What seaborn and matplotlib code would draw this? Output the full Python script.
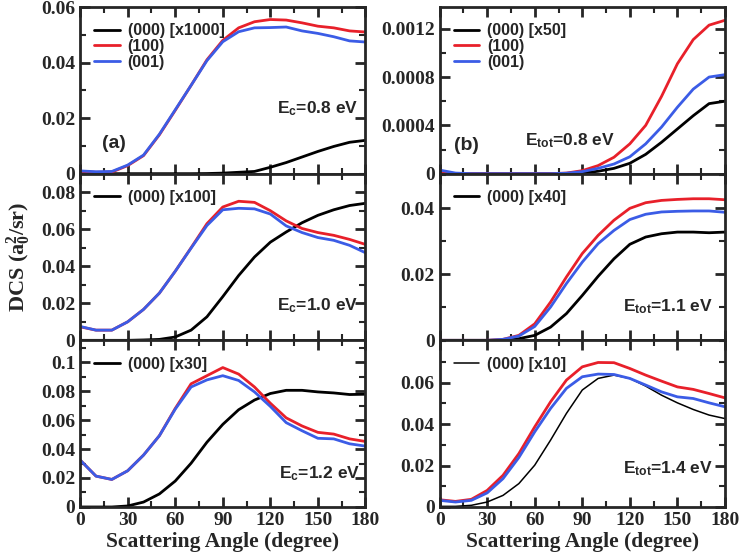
import matplotlib
matplotlib.use("Agg")
import matplotlib.pyplot as plt
import seaborn as sns
from matplotlib.ticker import MultipleLocator, FuncFormatter

# ==========================================
# Data
# ==========================================

angles = [0, 10, 20, 30, 40, 50, 60, 70, 80, 90,
          100, 110, 120, 130, 140, 150, 160, 170, 180]

# (a) Ec = 0.8 eV
a_000 = [0, 0, 0, 0, 0, 0, 0, 0, 0.00005, 0.0002, 0.0005, 0.0008, 0.0023,
         0.0040, 0.0060, 0.0080, 0.0098, 0.0113, 0.0120]
a_100 = [0.0008, 0.0005, 0.0006, 0.0029, 0.0065, 0.0140, 0.0228, 0.0318, 0.0410,
         0.0480, 0.0525, 0.0547, 0.0555, 0.0553, 0.0543, 0.0531, 0.0525, 0.0514, 0.0510]
a_001 = [0.0010, 0.0007, 0.0008, 0.0031, 0.0067, 0.0142, 0.0230, 0.0318, 0.0407,
         0.0475, 0.0511, 0.0525, 0.0526, 0.0528, 0.0514, 0.0505, 0.0493, 0.0478, 0.0474]

# (b) Etot = 0.8 eV
b_000 = [0, 0, 0, 0, 0, 0, 0, 0, 0, 0.000005, 0.00002, 0.000044, 0.000086,
         0.00016, 0.00026, 0.00037, 0.00048, 0.00058, 0.0006]
b_100 = [0.00001, 0, 0, 0, 0, 0, 0, 0, 0.000005, 0.000025, 0.000067, 0.000136,
         0.000247, 0.00040, 0.00064, 0.00091, 0.00111, 0.00123, 0.00127]
b_001 = [0.00003, 0.000005, 0, 0, 0, 0, 0, 0, 0.000004, 0.000017, 0.000044, 0.00008,
         0.00014, 0.000247, 0.000386, 0.00055, 0.0007, 0.0008, 0.00082]

# Ec = 1.0 eV
c_000 = [0, 0, 0, 0, 0.0002, 0.0005, 0.0018, 0.0055, 0.0127, 0.0236, 0.0350,
         0.0450, 0.0530, 0.0585, 0.0635, 0.0675, 0.0705, 0.0728, 0.0740]
c_100 = [0.0073, 0.0055, 0.0055, 0.0100, 0.0167, 0.0255, 0.0373, 0.0500, 0.0630,
         0.0720, 0.0751, 0.0745, 0.0700, 0.0645, 0.0604, 0.0582, 0.0567, 0.0545, 0.0518]
c_001 = [0.0075, 0.0055, 0.0055, 0.0100, 0.0167, 0.0255, 0.0373, 0.0498, 0.0620,
         0.0705, 0.0713, 0.0710, 0.0682, 0.0618, 0.0582, 0.0555, 0.0540, 0.0513, 0.0473]

# Etot = 1.1 eV
d_000 = [0, 0, 0, 0, 0, 0.0005, 0.0015, 0.0040, 0.0081, 0.0136, 0.0194, 0.0247,
         0.0291, 0.0313, 0.0323, 0.0328, 0.0328, 0.0326, 0.0328]
d_100 = [0, 0, 0, 0, 0.0003, 0.0015, 0.0050, 0.0116, 0.0192, 0.0263, 0.0318,
         0.0364, 0.0400, 0.0417, 0.0424, 0.0427, 0.0429, 0.0429, 0.0426]
d_001 = [0, 0, 0, 0, 0.0003, 0.0013, 0.0042, 0.0101, 0.0172, 0.0237, 0.0293,
         0.0333, 0.0366, 0.0382, 0.0389, 0.0391, 0.0392, 0.0392, 0.0388]

# Ec = 1.2 eV
e_000 = [0, 0, 0, 0.0007, 0.0034, 0.0090, 0.0179, 0.0302, 0.0447, 0.0570, 0.0671,
         0.0738, 0.0783, 0.0805, 0.0805, 0.0794, 0.0787, 0.0776, 0.0778]
e_100 = [0.0324, 0.0213, 0.0190, 0.0250, 0.0358, 0.0492, 0.0680, 0.0850, 0.0906,
         0.0962, 0.0917, 0.0828, 0.0716, 0.0615, 0.0559, 0.0515, 0.0503, 0.0470, 0.0452]
e_001 = [0.0324, 0.0213, 0.0190, 0.0250, 0.0358, 0.0492, 0.0675, 0.0828, 0.0877,
         0.0906, 0.0873, 0.0794, 0.0694, 0.0582, 0.0526, 0.0474, 0.0470, 0.0436, 0.0420]

# Etot = 1.4 eV
f_000 = [0.0003, 0.0003, 0.0008, 0.0024, 0.0056, 0.0113, 0.0202, 0.0323, 0.0452,
         0.0565, 0.0621, 0.0637, 0.0621, 0.0584, 0.0540, 0.0503, 0.0471, 0.0444, 0.0427]
f_100 = [0.0035, 0.0027, 0.0037, 0.0080, 0.0153, 0.0258, 0.0387, 0.0508, 0.0613,
         0.0677, 0.0698, 0.0697, 0.0669, 0.0637, 0.0608, 0.0580, 0.0568, 0.0548, 0.0527]
f_001 = [0.0032, 0.0024, 0.0032, 0.0068, 0.0137, 0.0239, 0.0363, 0.0476, 0.0573,
         0.0629, 0.0642, 0.0640, 0.0621, 0.0589, 0.0556, 0.0532, 0.0524, 0.0503, 0.0484]

scale_labels = ["(000) [x1000]", "(000) [x50]", "(000) [x100]",
                "(000) [x40]", "(000) [x30]", "(000) [x10]"]
energy_labels = [r"E$_{\mathsf{c}}$=0.8 eV", r"E$_{\mathsf{tot}}$=0.8 eV",
                 r"E$_{\mathsf{c}}$=1.0 eV", r"E$_{\mathsf{tot}}$=1.1 eV",
                 r"E$_{\mathsf{c}}$=1.2 eV", r"E$_{\mathsf{tot}}$=1.4 eV"]

# ==========================================
# Style
# ==========================================

sns.set_style("ticks")
plt.rcParams["font.family"] = ["Liberation Serif", "DejaVu Serif"]
plt.rcParams["font.weight"] = "bold"
plt.rcParams["mathtext.fontset"] = "custom"
plt.rcParams["mathtext.rm"] = "Liberation Serif:bold"
plt.rcParams["mathtext.it"] = "Liberation Serif:bold"
plt.rcParams["mathtext.sf"] = "Liberation Sans:bold"

RED = "#e8202a"
BLUE = "#3b5ce6"
legend_font = {"family": "Liberation Sans", "weight": "bold", "size": 11.5}

fig, axes = plt.subplots(3, 2, figsize=(7.42, 5.57), dpi=100)
fig.subplots_adjust(left=0.108, right=0.977, top=0.9874, bottom=0.0898,
                    hspace=0, wspace=0.26)

panels = [
    (a_000, a_100, a_001, 0.060, 0.02, 0.01, 2.0),
    (b_000, b_100, b_001, 0.00138, 0.0004, 0.0002, 2.0),
    (c_000, c_100, c_001, 0.090, 0.02, 0.01, 2.0),
    (d_000, d_100, d_001, 0.0505, 0.02, 0.01, 2.0),
    (e_000, e_100, e_001, 0.115, 0.02, 0.01, 2.0),
    (f_000, f_100, f_001, 0.0805, 0.02, 0.01, 1.1),
]

text_pos = [(0.975, 0.39, "right"), (0.30, 0.20, "left"),
            (0.975, 0.21, "right"), (0.958, 0.20, "right"),
            (0.98, 0.20, "right"), (0.958, 0.23, "right")]

for i, ax in enumerate(axes.flat):
    s000, s100, s001, ytop, major, minor, blw = panels[i]

    sns.lineplot(x=angles, y=s000, color="black", linewidth=blw, ax=ax,
                 label=scale_labels[i])
    if i < 2:
        sns.lineplot(x=angles, y=s100, color=RED, linewidth=2.0, ax=ax, label="(100)")
        sns.lineplot(x=angles, y=s001, color=BLUE, linewidth=2.0, ax=ax, label="(001)")
    else:
        sns.lineplot(x=angles, y=s100, color=RED, linewidth=2.0, ax=ax)
        sns.lineplot(x=angles, y=s001, color=BLUE, linewidth=2.0, ax=ax)

    ax.set_xlim(0, 180)
    ax.set_ylim(0, ytop)
    ax.xaxis.set_major_locator(MultipleLocator(30))
    ax.xaxis.set_minor_locator(MultipleLocator(15))
    ax.yaxis.set_major_locator(MultipleLocator(major))
    ax.yaxis.set_minor_locator(MultipleLocator(minor))
    ax.yaxis.set_major_formatter(FuncFormatter(lambda v, p: "0" if abs(v) < 1e-12 else f"{v:g}"))
    if i == 5:
        ax.set_yticks([0, 0.02, 0.04, 0.06])

    ax.tick_params(which="both", direction="in", top=True, right=True,
                   labelsize=14)
    ax.tick_params(which="major", length=7, width=2)
    ax.tick_params(which="minor", length=4, width=1.5)
    for lab in ax.get_yticklabels() + ax.get_xticklabels():
        lab.set_fontweight("bold")
    for sp in ax.spines.values():
        sp.set_linewidth(2)

    if i < 4:
        ax.tick_params(labelbottom=False)
    else:
        ax.set_xlabel("Scattering Angle (degree)", fontsize=15.5,
                      fontweight="bold", labelpad=2)

    ax.legend(loc="upper left", frameon=False, prop=legend_font, handlelength=1.6,
              handletextpad=0.5, labelspacing=0.05, borderaxespad=0.3,
              bbox_to_anchor=(0.01, 0.97))

    tx, ty, ha = text_pos[i]
    ax.text(tx, ty, energy_labels[i], transform=ax.transAxes, ha=ha,
            va="center", family="Liberation Sans", weight="bold", fontsize=12.5)

axes[0, 0].text(0.12, 0.18, "(a)", transform=axes[0, 0].transAxes,
                ha="center", va="center", family="Liberation Sans",
                weight="bold", fontsize=14)
axes[0, 1].text(0.05, 0.17, "(b)", transform=axes[0, 1].transAxes,
                ha="left", va="center", family="Liberation Sans",
                weight="bold", fontsize=14)

axes[1, 0].set_ylabel(r"DCS (a$_0^2$/sr)", fontsize=16, fontweight="bold",
                      labelpad=6)

plt.savefig("out.png", dpi=100)
plt.close()
